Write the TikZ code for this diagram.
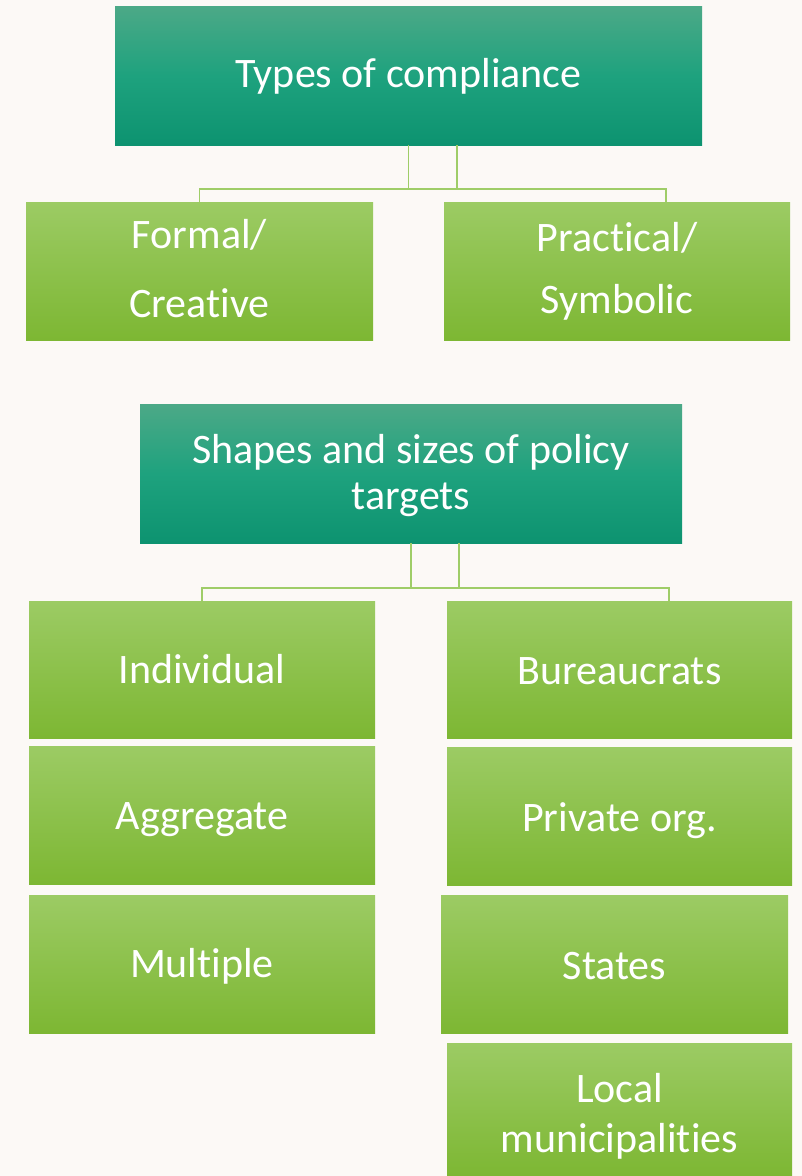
\documentclass[tikz,border=0pt]{standalone}
\usepackage{fontspec}
\setmainfont{Carlito}[Ligatures=NoCommon, Contextuals=NoAlternate]
\definecolor{bgc}{HTML}{FCF9F6}
\definecolor{tealtop}{HTML}{4CA987}
\definecolor{tealmid}{HTML}{1EA27E}
\definecolor{tealbot}{HTML}{0D9370}
\definecolor{grtop}{HTML}{9CCB64}
\definecolor{grbot}{HTML}{7DB733}
\definecolor{linec}{HTML}{9FCD68}
\tikzset{
  headbox/.style={rectangle, inner sep=0pt, outer sep=0pt, top color=tealtop, bottom color=tealbot, middle color=tealmid, text=white, align=center},
  leafbox/.style={rectangle, inner sep=0pt, outer sep=0pt, top color=grtop, bottom color=grbot, text=white, align=center},
  conn/.style={draw=linec, line width=1.6pt},
  fs/.style={font={\fontsize{42}{#1}\selectfont}}
}
\newcommand{\boxat}[6]{% name, style, x1, y1, x2, y2
  \node[#2, minimum width={(#5-#3)*1pt}, minimum height={(#6-#4)*1pt}] (#1) at ({(#3+#5)/2*1pt},{-(#4+#6)/2*1pt})}
\newcommand{\dn}[2]{\raisebox{-#1pt}[\height][\depth]{#2}}
\newcommand{\nl}{\kern0pt}
\begin{document}
\begin{tikzpicture}[x=1pt,y=-1pt]
\fill[bgc] (0,0) rectangle (802,1176);
\useasboundingbox (0,0) rectangle (802,1176);

\boxat{t1}{headbox,fs=48}{115}{6}{702}{145} {\dn{1}{Types of compliance}};
\boxat{f1}{leafbox,fs=69}{26}{202}{373}{340} {Formal/\\Creat\nl ive\rule{0pt}{0pt}\vspace{5pt}};
\boxat{p1}{leafbox,fs=62}{444}{202}{790}{340} {Pract\nl ical/\\Symbolic};

\boxat{t2}{headbox,fs=46}{140}{404}{682}{543} {\rule{0pt}{34pt}Shapes and sizes of policy\\targets};
\boxat{a1}{leafbox,fs=48}{29}{601}{375}{738} {Individual};
\boxat{a2}{leafbox,fs=48}{29}{746}{375}{884} {\dn{5}{Aggregate}};
\boxat{a3}{leafbox,fs=48}{29}{895}{375}{1033} {\dn{2}{Multiple}};
\boxat{b1}{leafbox,fs=48}{447}{601}{792}{738} {\dn{2}{Bureaucrats}};
\boxat{b2}{leafbox,fs=48}{447}{747}{792}{885} {\dn{5}{Private org.}};
\boxat{b3}{leafbox,fs=48}{441}{895}{788}{1033} {\dn{2}{States}};
\boxat{b4}{leafbox,fs=50}{447}{1043}{792}{1176} {\rule{0pt}{42pt}Local\\municipalit\nl ies};

\draw[conn] ([xshift=48.5]t1.south) -- ++(0,44) -| (f1.north);
\draw[conn] (t1.south) -- ++(0,44) -| ([xshift=49]p1.north);
\draw[conn] ([xshift=48]t2.south) -- ++(0,45) -| (a1.north);
\draw[conn] (t2.south) -- ++(0,45) -| ([xshift=49.5]b1.north);
\end{tikzpicture}
\end{document}
